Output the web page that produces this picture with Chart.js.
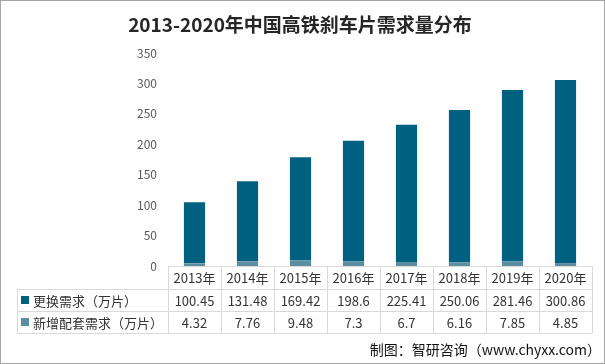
<!DOCTYPE html>
<html>
<head>
<meta charset="utf-8">
<script src="https://cdn.jsdelivr.net/npm/chart.js@4/dist/chart.umd.min.js"></script>
<style>
  html, body { margin: 0; padding: 0; background: #fff; }
  canvas { display: block; }
</style>
</head>
<body>
<canvas id="chart" width="605" height="364"></canvas>
<script>
const years = ['2013年', '2014年', '2015年', '2016年', '2017年', '2018年', '2019年', '2020年'];
const replaceLabel = '更换需求（万片）';
const newLabel = '新增配套需求（万片）';
const replaceDemand = [100.45, 131.48, 169.42, 198.6, 225.41, 250.06, 281.46, 300.86];
const newDemand = [4.32, 7.76, 9.48, 7.3, 6.7, 6.16, 7.85, 4.85];
const yTicks = [0, 50, 100, 150, 200, 250, 300, 350];

const darkColor = '#00607f';
const lightColor = '#5c8ea2';
const font = '"Noto Sans CJK SC", "Noto Sans", sans-serif';

// 数据表 + 标题 + 边框，画在图下方
const tablePlugin = {
  id: 'dataTable',
  afterDraw(chart) {
    const ctx = chart.ctx;
    const area = chart.chartArea;
    const x = chart.scales.x;
    const colW = (area.right - area.left) / years.length;
    const labelLeft = 17;
    const rowTop = area.bottom;
    const rowH = [23, 22, 22];
    const y1 = rowTop + rowH[0];
    const y2 = y1 + rowH[1];
    const y3 = y2 + rowH[2];

    ctx.save();
    ctx.strokeStyle = '#d9d9d9';
    ctx.lineWidth = 1;
    ctx.beginPath();
    // 横线
    ctx.moveTo(area.left, rowTop + 0.5); ctx.lineTo(area.right, rowTop + 0.5);
    [y1, y2, y3].forEach(y => { ctx.moveTo(labelLeft, y + 0.5); ctx.lineTo(area.right, y + 0.5); });
    // 竖线
    ctx.moveTo(labelLeft + 0.5, y1); ctx.lineTo(labelLeft + 0.5, y3);
    for (let i = 0; i <= years.length; i++) {
      const xx = Math.round(area.left + colW * i) + 0.5;
      ctx.moveTo(xx, rowTop); ctx.lineTo(xx, y3);
    }
    ctx.stroke();

    ctx.fillStyle = '#333';
    ctx.font = '13px ' + font;
    ctx.textAlign = 'center';
    ctx.textBaseline = 'middle';
    years.forEach((yr, i) => {
      const cx = x.getPixelForValue(i);
      ctx.fillText(yr, cx, rowTop + rowH[0] / 2 + 1);
      ctx.fillText(String(replaceDemand[i]), cx, y1 + rowH[1] / 2 + 1);
      ctx.fillText(String(newDemand[i]), cx, y2 + rowH[2] / 2 + 1);
    });

    ctx.textAlign = 'left';
    ctx.fillStyle = darkColor;
    ctx.fillRect(21, y1 + 7, 8, 8);
    ctx.fillStyle = lightColor;
    ctx.fillRect(21, y2 + 7, 8, 8);
    ctx.fillStyle = '#333';
    ctx.fillText(replaceLabel, 33, y1 + rowH[1] / 2 + 1);
    ctx.fillText(newLabel, 33, y2 + rowH[2] / 2 + 1);

    // 标题
    ctx.textAlign = 'center';
    ctx.fillStyle = '#262626';
    ctx.font = 'bold 19px ' + font;
    ctx.fillText('2013-2020年中国高铁刹车片需求量分布', 300, 25);

    // 来源
    ctx.textAlign = 'right';
    ctx.font = '14px ' + font;
    ctx.fillStyle = '#111';
    ctx.fillText('制图：智研咨询（www.chyxx.com）', 601, 350);

    // 外框
    ctx.strokeStyle = '#a6a6a6';
    ctx.strokeRect(0.5, 0.5, chart.width - 1, chart.height - 1);
    ctx.restore();
  }
};

new Chart(document.getElementById('chart'), {
  type: 'bar',
  data: {
    labels: years,
    datasets: [
      { label: newLabel, data: newDemand, backgroundColor: lightColor },
      { label: replaceLabel, data: replaceDemand, backgroundColor: darkColor }
    ]
  },
  options: {
    responsive: false,
    animation: false,
    layout: { padding: { left: 0, right: 13, top: 53, bottom: 98 } },
    datasets: { bar: { categoryPercentage: 1, barPercentage: 0.4 } },
    plugins: { legend: { display: false }, tooltip: { enabled: false } },
    scales: {
      x: { stacked: true, display: false },
      y: {
        stacked: true,
        min: 0,
        max: 350,
        afterFit: s => { s.width = 168; },
        afterBuildTicks: s => { s.ticks = yTicks.map(v => ({ value: v })); },
        grid: { display: false, drawTicks: false },
        border: { display: false },
        ticks: { color: '#595959', font: { size: 12, family: font }, padding: 11 }
      }
    }
  },
  plugins: [tablePlugin]
});
</script>
</body>
</html>
